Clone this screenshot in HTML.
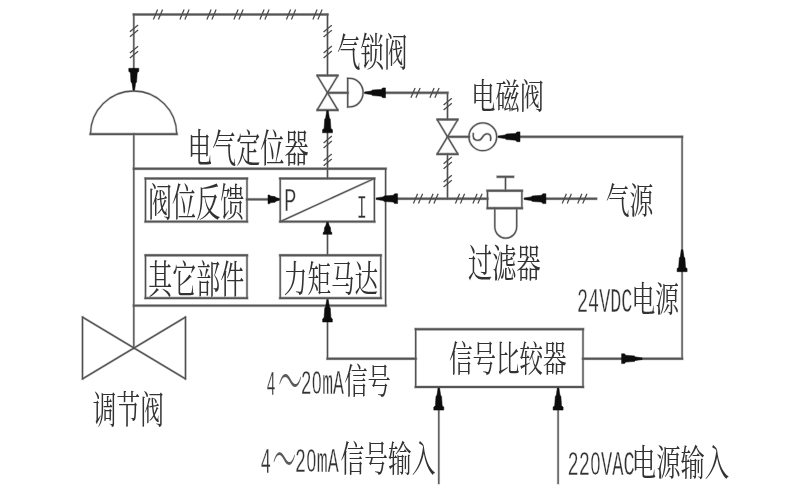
<!DOCTYPE html>
<html lang="zh-CN">
<head>
<meta charset="utf-8">
<title>电气定位器 气动调节阀控制原理图</title>
<style>
html,body{margin:0;padding:0;background:#fff;}
body{width:800px;height:500px;overflow:hidden;}
svg{display:block;}
.art path{fill:none;stroke-linejoin:miter;stroke-linecap:square;}
.dia path{fill:none;stroke-linejoin:round;stroke-linecap:round;}
.hhalo{stroke:#c4c4c4;stroke-width:3.2;}
.hcore{stroke:#545454;stroke-width:1.9;}
.vhalo{stroke:#cecece;stroke-width:2.6;}
.vcore{stroke:#505050;stroke-width:1.3;}
.dhalo{stroke:#d0d0d0;stroke-width:2.5;}
.dcore{stroke:#525252;stroke-width:1.3;}
.tk line{fill:none;stroke:#4a4a4a;stroke-width:1.25;}
.ah polygon{fill:#0c0c0c;stroke:#0c0c0c;stroke-width:0.5;}
.cj{font-family:"Liberation Serif","Noto Serif CJK SC","Noto Sans CJK SC",serif;font-weight:400;fill:#333333;}
.z{font-family:"Liberation Sans","Noto Sans CJK SC",sans-serif;font-size:0.95em;}
.mo{font-family:"Liberation Mono","Noto Sans CJK SC",monospace;font-weight:400;fill:#333333;stroke:#fff;stroke-width:0.35;paint-order:fill stroke;}
</style>
</head>
<body>
<svg width="800" height="500" viewBox="0 0 800 500" role="img" aria-label="电气定位器控制原理图">
<filter id="soft" x="0" y="0" width="800" height="500" filterUnits="userSpaceOnUse"><feGaussianBlur stdDeviation="0.5"/></filter>
<rect x="0" y="0" width="800" height="500" fill="#ffffff"/>
<g filter="url(#soft)">
<g transform="translate(0.5,0.5)">
<!-- soft halos -->
<g class="dia dhalo">
<path d="M90,133.6 A43.1,43.1 0 0 1 176.2,133.6"/>
<path d="M279.7,221.1 L373.9,178"/>
<path d="M316.6,75.0 L337.4,109.6 M337.4,75.0 L316.6,109.6"/>
<path d="M347.2,77.8 H349.2 A13.4,14.3 0 0 1 349.2,106.4 H347.2"/>
<path d="M436.6,119.0 L457.4,153.6 M457.4,119.0 L436.6,153.6"/>
<path d="M468.4,136.3 a13.9,13.9 0 1 0 27.8,0 a13.9,13.9 0 1 0 -27.8,0 Z"/>
<path d="M472.8,133 C471.5,141.3 479.5,141.3 482,136.6 C484.5,132 491.5,131.6 490,139.8"/>
<path d="M494.3,207.7 V226 C494.3,233 499.5,237.7 505.2,237.7 C511,237.7 516.2,233 516.2,226 V207.7"/>
<path d="M82,316.6 L185,378.4 M185,316.6 L82,378.4"/>
</g>
<g class="art vhalo">
<path d="M133.3,69 V14 M327,14 V75"/>
<path d="M133.3,133.6 V348"/>
<path d="M385.1,168.2 V305.1"/>
<path d="M246.5,178 V221.1 M145,221.1 V178"/>
<path d="M373.9,178 V221.1 M279.7,221.1 V178"/>
<path d="M246.5,254.8 V297.6 M145,297.6 V254.8"/>
<path d="M380.3,254.8 V297.6 M279.7,297.6 V254.8"/>
<path d="M327,254.8 V232"/>
<path d="M327,178 V130"/>
<path d="M347.2,77.8 V106.4"/>
<path d="M447,92.3 V119"/>
<path d="M447,153.6 V198.2"/>
<path d="M681.6,136.3 V358.2"/>
<path d="M505,176.3 V190.2"/>
<path d="M521.4,190.2 V207.7 M487,207.7 V190.2"/>
<path d="M82,316.6 V378.4 M185,316.6 V378.4"/>
<path d="M582.5,328.7 V386.5 M415.2,386.5 V328.7"/>
<path d="M327,358.2 V319"/>
<path d="M438.3,482.8 V408"/>
<path d="M557.6,482.8 V408"/>
</g>
<g class="art hhalo">
<path d="M133.3,14 H327"/>
<path d="M90,133.6 H176.2"/>
<path d="M133.3,168.2 H385.1 M385.1,305.1 H133.3"/>
<path d="M145,178 H246.5 M246.5,221.1 H145"/>
<path d="M279.7,178 H373.9 M373.9,221.1 H279.7"/>
<path d="M145,254.8 H246.5 M246.5,297.6 H145"/>
<path d="M279.7,254.8 H380.3 M380.3,297.6 H279.7"/>
<path d="M246.5,198.9 H269"/>
<path d="M317.1,75 H336.9 M317.1,109.6 H336.9"/>
<path d="M327,92.3 H347.2"/>
<path d="M384,92.3 H447"/>
<path d="M437.1,119 H456.9 M437.1,153.6 H456.9"/>
<path d="M447,136.3 H468.5"/>
<path d="M518,136.3 H681.6 M681.6,358.2 H582.5"/>
<path d="M595.6,198.2 H544"/>
<path d="M487,198.2 H396"/>
<path d="M497.2,176.3 H512.6"/>
<path d="M487,190.2 H521.4 M521.4,207.7 H487"/>
<path d="M415.2,328.7 H582.5 M582.5,386.5 H415.2"/>
<path d="M415.2,358.2 H327"/>
</g>
<!-- curved / diagonal strokes -->
<g class="dia dcore">
<path d="M90,133.6 A43.1,43.1 0 0 1 176.2,133.6"/>
<path d="M279.7,221.1 L373.9,178"/>
<path d="M316.6,75.0 L337.4,109.6 M337.4,75.0 L316.6,109.6"/>
<path d="M347.2,77.8 H349.2 A13.4,14.3 0 0 1 349.2,106.4 H347.2"/>
<path d="M436.6,119.0 L457.4,153.6 M457.4,119.0 L436.6,153.6"/>
<path d="M468.4,136.3 a13.9,13.9 0 1 0 27.8,0 a13.9,13.9 0 1 0 -27.8,0 Z"/>
<path d="M472.8,133 C471.5,141.3 479.5,141.3 482,136.6 C484.5,132 491.5,131.6 490,139.8"/>
<path d="M494.3,207.7 V226 C494.3,233 499.5,237.7 505.2,237.7 C511,237.7 516.2,233 516.2,226 V207.7"/>
<path d="M82,316.6 L185,378.4 M185,316.6 L82,378.4"/>
</g>
<!-- vertical strokes -->
<g class="art vcore">
<path d="M133.3,69 V14 M327,14 V75"/>
<path d="M133.3,133.6 V348"/>
<path d="M385.1,168.2 V305.1"/>
<path d="M246.5,178 V221.1 M145,221.1 V178"/>
<path d="M373.9,178 V221.1 M279.7,221.1 V178"/>
<path d="M246.5,254.8 V297.6 M145,297.6 V254.8"/>
<path d="M380.3,254.8 V297.6 M279.7,297.6 V254.8"/>
<path d="M327,254.8 V232"/>
<path d="M327,178 V130"/>
<path d="M347.2,77.8 V106.4"/>
<path d="M447,92.3 V119"/>
<path d="M447,153.6 V198.2"/>
<path d="M681.6,136.3 V358.2"/>
<path d="M505,176.3 V190.2"/>
<path d="M521.4,190.2 V207.7 M487,207.7 V190.2"/>
<path d="M82,316.6 V378.4 M185,316.6 V378.4"/>
<path d="M582.5,328.7 V386.5 M415.2,386.5 V328.7"/>
<path d="M327,358.2 V319"/>
<path d="M438.3,482.8 V408"/>
<path d="M557.6,482.8 V408"/>
</g>
<!-- horizontal strokes -->
<g class="art hcore">
<path d="M133.3,14 H327"/>
<path d="M90,133.6 H176.2"/>
<path d="M133.3,168.2 H385.1 M385.1,305.1 H133.3"/>
<path d="M145,178 H246.5 M246.5,221.1 H145"/>
<path d="M279.7,178 H373.9 M373.9,221.1 H279.7"/>
<path d="M145,254.8 H246.5 M246.5,297.6 H145"/>
<path d="M279.7,254.8 H380.3 M380.3,297.6 H279.7"/>
<path d="M246.5,198.9 H269"/>
<path d="M317.1,75 H336.9 M317.1,109.6 H336.9"/>
<path d="M327,92.3 H347.2"/>
<path d="M384,92.3 H447"/>
<path d="M437.1,119 H456.9 M437.1,153.6 H456.9"/>
<path d="M447,136.3 H468.5"/>
<path d="M518,136.3 H681.6 M681.6,358.2 H582.5"/>
<path d="M595.6,198.2 H544"/>
<path d="M487,198.2 H396"/>
<path d="M497.2,176.3 H512.6"/>
<path d="M487,190.2 H521.4 M521.4,207.7 H487"/>
<path d="M415.2,328.7 H582.5 M582.5,386.5 H415.2"/>
<path d="M415.2,358.2 H327"/>
</g>
<!-- pneumatic-line tick marks -->
<g class="tk">
<line x1="152.9" y1="18.9" x2="157.1" y2="9.1"/>
<line x1="157.9" y1="18.9" x2="162.1" y2="9.1"/>
<line x1="179.4" y1="18.9" x2="183.6" y2="9.1"/>
<line x1="184.4" y1="18.9" x2="188.6" y2="9.1"/>
<line x1="206.4" y1="18.9" x2="210.6" y2="9.1"/>
<line x1="211.4" y1="18.9" x2="215.6" y2="9.1"/>
<line x1="233.4" y1="18.9" x2="237.6" y2="9.1"/>
<line x1="238.4" y1="18.9" x2="242.6" y2="9.1"/>
<line x1="259.4" y1="18.9" x2="263.6" y2="9.1"/>
<line x1="264.4" y1="18.9" x2="268.6" y2="9.1"/>
<line x1="285.9" y1="18.9" x2="290.1" y2="9.1"/>
<line x1="290.9" y1="18.9" x2="295.1" y2="9.1"/>
<line x1="312.4" y1="18.9" x2="316.6" y2="9.1"/>
<line x1="317.4" y1="18.9" x2="321.6" y2="9.1"/>
<line x1="129.4" y1="31.2" x2="137.6" y2="24.4"/>
<line x1="129.4" y1="36.2" x2="137.6" y2="29.4"/>
<line x1="129.4" y1="52.5" x2="137.6" y2="45.7"/>
<line x1="129.4" y1="57.5" x2="137.6" y2="50.7"/>
<line x1="323.1" y1="31.5" x2="331.3" y2="24.7"/>
<line x1="323.1" y1="36.5" x2="331.3" y2="29.7"/>
<line x1="323.1" y1="52.4" x2="331.3" y2="45.6"/>
<line x1="323.1" y1="57.4" x2="331.3" y2="50.6"/>
<line x1="323.1" y1="142.4" x2="331.3" y2="135.6"/>
<line x1="323.1" y1="147.4" x2="331.3" y2="140.6"/>
<line x1="323.1" y1="160.2" x2="331.3" y2="153.4"/>
<line x1="323.1" y1="165.2" x2="331.3" y2="158.4"/>
<line x1="410.4" y1="97.2" x2="414.6" y2="87.4"/>
<line x1="415.4" y1="97.2" x2="419.6" y2="87.4"/>
<line x1="429.4" y1="97.2" x2="433.6" y2="87.4"/>
<line x1="434.4" y1="97.2" x2="438.6" y2="87.4"/>
<line x1="443.1" y1="104.5" x2="451.3" y2="97.7"/>
<line x1="443.1" y1="109.5" x2="451.3" y2="102.7"/>
<line x1="443.1" y1="163.2" x2="451.3" y2="156.4"/>
<line x1="443.1" y1="168.2" x2="451.3" y2="161.4"/>
<line x1="443.1" y1="181.6" x2="451.3" y2="174.8"/>
<line x1="443.1" y1="186.6" x2="451.3" y2="179.8"/>
<line x1="561.7" y1="203.1" x2="565.9" y2="193.3"/>
<line x1="566.7" y1="203.1" x2="570.9" y2="193.3"/>
<line x1="577.2" y1="203.1" x2="581.4" y2="193.3"/>
<line x1="582.2" y1="203.1" x2="586.4" y2="193.3"/>
<line x1="412.9" y1="203.1" x2="417.1" y2="193.3"/>
<line x1="417.9" y1="203.1" x2="422.1" y2="193.3"/>
<line x1="428.4" y1="203.1" x2="432.6" y2="193.3"/>
<line x1="433.4" y1="203.1" x2="437.6" y2="193.3"/>
<line x1="454.9" y1="203.1" x2="459.1" y2="193.3"/>
<line x1="459.9" y1="203.1" x2="464.1" y2="193.3"/>
<line x1="472.4" y1="203.1" x2="476.6" y2="193.3"/>
<line x1="477.4" y1="203.1" x2="481.6" y2="193.3"/>
</g>
<!-- arrow heads -->
<g class="ah">
<polygon points="132.5,89.8 131.5,82.8 130.5,81.4 129.9,72.2 128.3,70.9 128.3,67.8 138.3,67.8 138.3,70.9 136.7,72.2 136.1,81.4 135.1,82.8 134.1,89.8"/>
<polygon points="279.0,198.1 275.3,197.1 274.6,196.1 269.8,195.5 269.1,194.5 267.5,194.5 267.5,203.3 269.1,203.3 269.8,202.3 274.6,201.7 275.3,200.7 279.0,199.7"/>
<polygon points="326.2,221.8 325.2,225.6 324.2,226.4 323.6,231.4 322.6,232.1 322.6,233.8 331.4,233.8 331.4,232.1 330.4,231.4 329.8,226.4 328.8,225.6 327.8,221.8"/>
<polygon points="326.2,110.3 325.2,117.3 324.2,118.7 323.6,127.9 322.0,129.2 322.0,132.3 332.0,132.3 332.0,129.2 330.4,127.9 329.8,118.7 328.8,117.3 327.8,110.3"/>
<polygon points="364.0,91.5 370.7,90.5 372.0,89.5 380.8,88.9 382.1,87.4 385.0,87.4 385.0,97.2 382.1,97.2 380.8,95.7 372.0,95.1 370.7,94.1 364.0,93.1"/>
<polygon points="497.5,135.5 504.5,134.5 505.9,133.5 515.1,132.9 516.4,131.4 519.5,131.4 519.5,141.2 516.4,141.2 515.1,139.7 505.9,139.1 504.5,138.1 497.5,137.1"/>
<polygon points="680.8,249.2 679.8,256.2 678.8,257.6 678.2,266.8 676.6,268.1 676.6,271.2 686.6,271.2 686.6,268.1 685.0,266.8 684.4,257.6 683.4,256.2 682.4,249.2"/>
<polygon points="641.6,357.4 635.0,356.4 633.8,355.4 625.2,354.8 624.0,353.3 621.1,353.3 621.1,363.1 624.0,363.1 625.2,361.6 633.8,361.0 635.0,360.0 641.6,359.0"/>
<polygon points="523.6,197.4 530.6,196.4 531.9,195.4 541.0,194.8 542.3,193.3 545.4,193.3 545.4,203.1 542.3,203.1 541.0,201.6 531.9,201.0 530.6,200.0 523.6,199.0"/>
<polygon points="375.6,197.4 382.5,196.4 383.8,195.4 392.8,194.8 394.1,193.3 397.1,193.3 397.1,203.1 394.1,203.1 392.8,201.6 383.8,201.0 382.5,200.0 375.6,199.0"/>
<polygon points="326.2,299.0 325.2,306.2 324.2,307.6 323.6,317.0 322.1,318.4 322.1,321.5 331.9,321.5 331.9,318.4 330.4,317.0 329.8,307.6 328.8,306.2 327.8,299.0"/>
<polygon points="437.5,387.6 436.5,394.6 435.5,396.0 434.9,405.2 433.3,406.5 433.3,409.6 443.3,409.6 443.3,406.5 441.7,405.2 441.1,396.0 440.1,394.6 439.1,387.6"/>
<polygon points="556.8,387.6 555.8,394.6 554.8,396.0 554.2,405.2 552.6,406.5 552.6,409.6 562.6,409.6 562.6,406.5 561.0,405.2 560.4,396.0 559.4,394.6 558.4,387.6"/>
</g>
</g>
<!-- labels -->
<g class="tx">
<text class="cj" transform="translate(337.06,66.27) scale(0.5991,1)" font-size="39.14">气锁阀</text>
<text class="cj" transform="translate(471.25,109.14) scale(0.6778,1)" font-size="35.75">电磁阀</text>
<text class="cj" transform="translate(187.86,161.52) scale(0.6245,1)" font-size="38.71">电气定位器</text>
<text class="cj" transform="translate(148.10,215.65) scale(0.6208,1)" font-size="38.71">阀位反馈</text>
<text class="mo" transform="translate(284.09,210.50) scale(0.6085,1)" font-size="34.09">P</text>
<text class="mo" transform="translate(356.81,217.70) scale(0.5017,1)" font-size="33.64">I</text>
<text class="cj" transform="translate(148.34,292.93) scale(0.6256,1)" font-size="38.32">其它部件</text>
<text class="cj" transform="translate(283.82,292.32) scale(0.6431,1)" font-size="36.68">力矩马达</text>
<text class="cj" transform="translate(92.79,422.72) scale(0.6256,1)" font-size="37.90">调节阀</text>
<text class="cj" transform="translate(468.02,277.27) scale(0.6261,1)" font-size="38.71">过滤器</text>
<text class="cj" transform="translate(605.80,214.32) scale(0.6495,1)" font-size="36.68">气源</text>
<text class="cj" transform="translate(448.89,372.24) scale(0.6495,1)" font-size="36.28">信号比较器</text>
<g class="label"><text class="mo" transform="translate(576.96,312.15) scale(0.5305,1)" font-size="34.85">24VDC</text><text class="cj" transform="translate(631.41,311.95) scale(0.6781,1)" font-size="35.05">电源</text></g>
<g class="label"><text class="mo" transform="translate(266.45,394.76) scale(0.4167,1)" font-size="36.00">4</text><text class="cj" transform="translate(278.20,406.82) scale(0.3512,1)" font-size="68.33" style="font-weight:200;fill:#5a5a5a">～</text><text class="mo" transform="translate(300.64,394.06) scale(0.5251,1)" font-size="34.41">2<tspan class="z" dx="0.036em">0</tspan><tspan dx="0.036em">mA</tspan></text><text class="cj" transform="translate(344.30,394.38) scale(0.6611,1)" font-size="35.27">信号</text></g>
<g class="label"><text class="mo" transform="translate(260.38,472.87) scale(0.4789,1)" font-size="36.54">4</text><text class="cj" transform="translate(272.57,483.83) scale(0.3542,1)" font-size="66.67" style="font-weight:200;fill:#5a5a5a">～</text><text class="mo" transform="translate(294.97,472.15) scale(0.5222,1)" font-size="34.93">2<tspan class="z" dx="0.036em">0</tspan><tspan dx="0.036em">mA</tspan></text><text class="cj" transform="translate(340.54,471.77) scale(0.6610,1)" font-size="35.90">信号输入</text></g>
<g class="label"><text class="mo" transform="translate(567.44,474.65) scale(0.5348,1)" font-size="34.93">22<tspan class="z" dx="0.036em">0</tspan><tspan dx="0.036em">VAC</tspan></text><text class="cj" transform="translate(631.83,475.52) scale(0.6782,1)" font-size="35.90">电源输入</text></g>
</g>
</g>
</svg>
</body>
</html>
